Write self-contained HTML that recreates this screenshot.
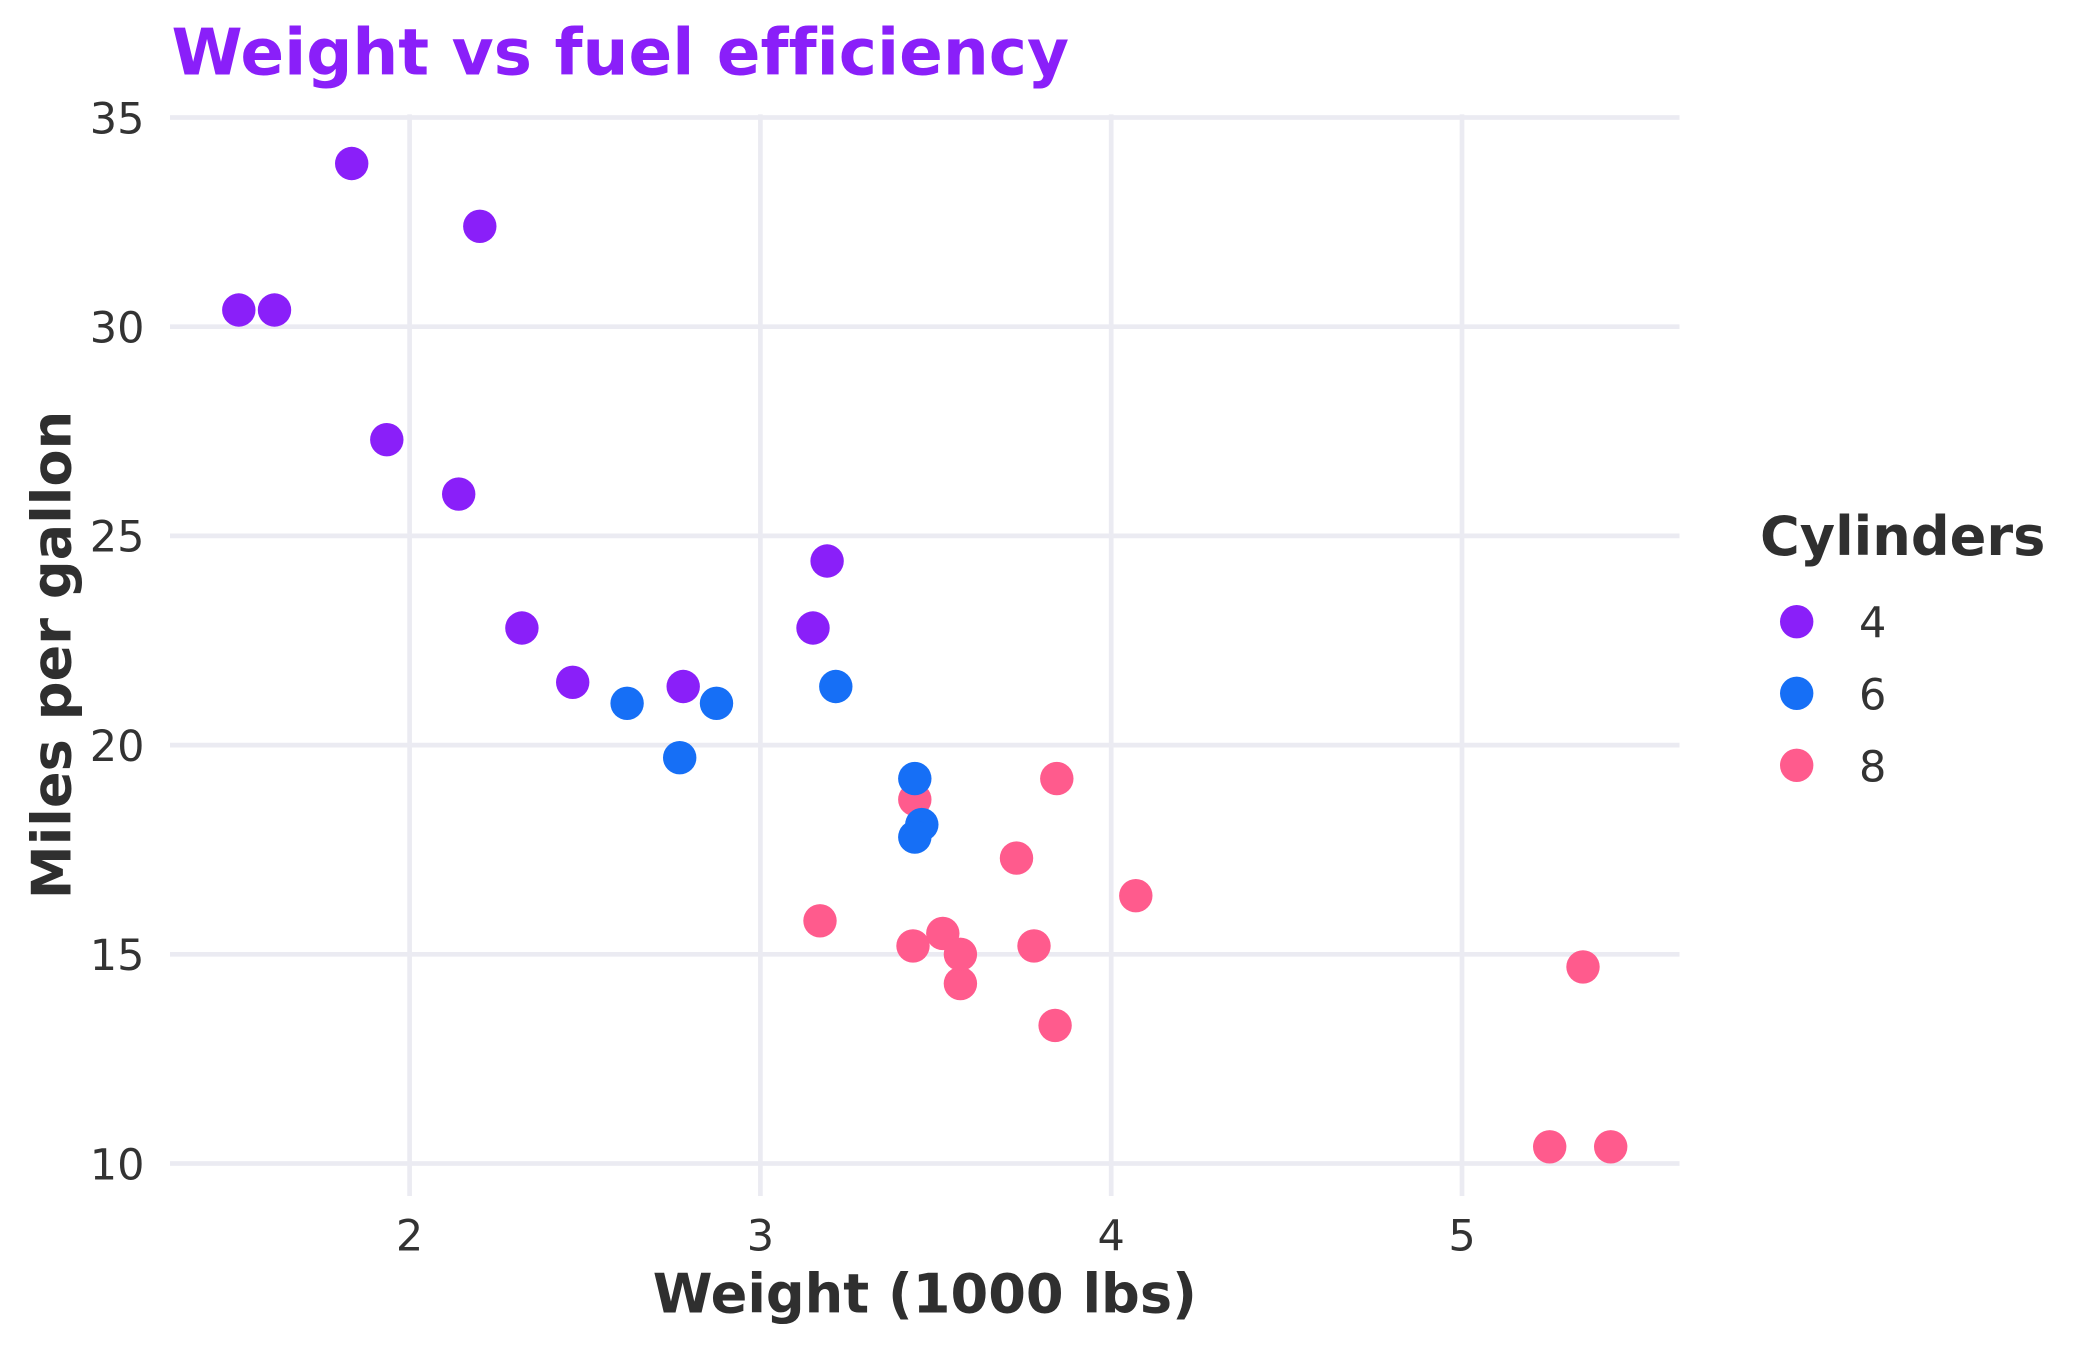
<!DOCTYPE html>
<html>
<head>
<meta charset="utf-8">
<style>
html,body{margin:0;padding:0;background:#ffffff;}
svg{display:block;}
text{font-family:"DejaVu Sans","Liberation Sans",sans-serif;font-variant-ligatures:none;}
</style>
</head>
<body>
<svg width="2100" height="1350" viewBox="0 0 2100 1350" xmlns="http://www.w3.org/2000/svg">
<rect x="0" y="0" width="2100" height="1350" fill="#ffffff"/>
<g stroke="#ebebf2" stroke-width="4.7" fill="none">
<line x1="170" y1="117.5" x2="1679.5" y2="117.5"/>
<line x1="170" y1="326.7" x2="1679.5" y2="326.7"/>
<line x1="170" y1="535.9" x2="1679.5" y2="535.9"/>
<line x1="170" y1="745.1" x2="1679.5" y2="745.1"/>
<line x1="170" y1="954.3" x2="1679.5" y2="954.3"/>
<line x1="170" y1="1163.5" x2="1679.5" y2="1163.5"/>
<line x1="409.6" y1="114.4" x2="409.6" y2="1196"/>
<line x1="760.4" y1="114.4" x2="760.4" y2="1196"/>
<line x1="1111.2" y1="114.4" x2="1111.2" y2="1196"/>
<line x1="1462" y1="114.4" x2="1462" y2="1196"/>
</g>
<g font-size="43" fill="#333333" text-anchor="end">
<text x="144.5" y="133.3">35</text>
<text x="144.5" y="342.5">30</text>
<text x="144.5" y="551.7">25</text>
<text x="144.5" y="760.9">20</text>
<text x="144.5" y="970.1">15</text>
<text x="144.5" y="1179.3">10</text>
</g>
<g font-size="43" fill="#333333" text-anchor="middle">
<text x="409.6" y="1250.7">2</text>
<text x="760.4" y="1250.7">3</text>
<text x="1111.2" y="1250.7">4</text>
<text x="1462" y="1250.7">5</text>
</g>
<g>
<circle cx="627.1" cy="703.3" r="16.7" fill="#166ff6"/>
<circle cx="716.5" cy="703.3" r="16.7" fill="#166ff6"/>
<circle cx="521.9" cy="628.0" r="16.7" fill="#8a1ff9"/>
<circle cx="835.8" cy="686.5" r="16.7" fill="#166ff6"/>
<circle cx="914.8" cy="799.5" r="16.7" fill="#ff5b8d"/>
<circle cx="921.8" cy="824.6" r="16.7" fill="#166ff6"/>
<circle cx="960.4" cy="983.6" r="16.7" fill="#ff5b8d"/>
<circle cx="827.1" cy="561.0" r="16.7" fill="#8a1ff9"/>
<circle cx="813.0" cy="628.0" r="16.7" fill="#8a1ff9"/>
<circle cx="914.8" cy="778.6" r="16.7" fill="#166ff6"/>
<circle cx="914.8" cy="837.1" r="16.7" fill="#166ff6"/>
<circle cx="1135.8" cy="895.7" r="16.7" fill="#ff5b8d"/>
<circle cx="1016.5" cy="858.1" r="16.7" fill="#ff5b8d"/>
<circle cx="1034.0" cy="945.9" r="16.7" fill="#ff5b8d"/>
<circle cx="1549.7" cy="1146.8" r="16.7" fill="#ff5b8d"/>
<circle cx="1610.7" cy="1146.8" r="16.7" fill="#ff5b8d"/>
<circle cx="1583.0" cy="966.9" r="16.7" fill="#ff5b8d"/>
<circle cx="479.8" cy="226.3" r="16.7" fill="#8a1ff9"/>
<circle cx="274.5" cy="310.0" r="16.7" fill="#8a1ff9"/>
<circle cx="351.7" cy="163.5" r="16.7" fill="#8a1ff9"/>
<circle cx="572.7" cy="682.3" r="16.7" fill="#8a1ff9"/>
<circle cx="942.8" cy="933.4" r="16.7" fill="#ff5b8d"/>
<circle cx="913.0" cy="945.9" r="16.7" fill="#ff5b8d"/>
<circle cx="1055.1" cy="1025.4" r="16.7" fill="#ff5b8d"/>
<circle cx="1056.8" cy="778.6" r="16.7" fill="#ff5b8d"/>
<circle cx="386.8" cy="439.7" r="16.7" fill="#8a1ff9"/>
<circle cx="458.7" cy="494.1" r="16.7" fill="#8a1ff9"/>
<circle cx="238.8" cy="310.0" r="16.7" fill="#8a1ff9"/>
<circle cx="820.0" cy="920.8" r="16.7" fill="#ff5b8d"/>
<circle cx="679.7" cy="757.7" r="16.7" fill="#166ff6"/>
<circle cx="960.4" cy="954.3" r="16.7" fill="#ff5b8d"/>
<circle cx="683.2" cy="686.5" r="16.7" fill="#8a1ff9"/>
</g>
<text x="171.5" y="74.3" font-size="64.5" font-weight="bold" fill="#8a1ff9">Weight vs fuel efficiency</text>
<text x="924.8" y="1312.7" font-size="54.2" font-weight="bold" fill="#2f2f2f" text-anchor="middle">Weight (1000 lbs)</text>
<text transform="translate(70.5,655) rotate(-90)" x="0" y="0" font-size="54.2" font-weight="bold" fill="#2f2f2f" text-anchor="middle">Miles per gallon</text>
<text x="1760" y="555" font-size="54.2" font-weight="bold" fill="#2f2f2f">Cylinders</text>
<circle cx="1796.7" cy="621.7" r="16.7" fill="#8a1ff9"/>
<circle cx="1796.7" cy="693.3" r="16.7" fill="#166ff6"/>
<circle cx="1796.7" cy="765.3" r="16.7" fill="#ff5b8d"/>
<g font-size="43" fill="#333333">
<text x="1859" y="637.7">4</text>
<text x="1859" y="709.5">6</text>
<text x="1859" y="781.5">8</text>
</g>
</svg>
</body>
</html>
